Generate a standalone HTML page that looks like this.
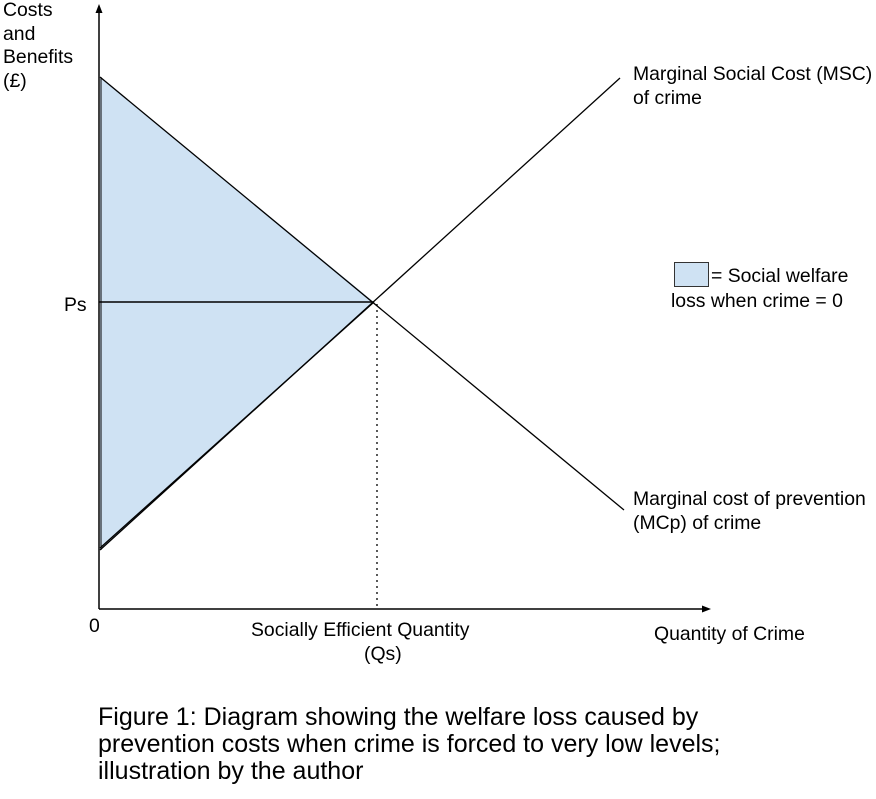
<!DOCTYPE html>
<html><head><style>
body{margin:0;background:#fff;width:876px;height:794px;overflow:hidden;font-family:"Liberation Sans",Arial,sans-serif}
</style></head><body>
<svg width="876" height="794" xmlns="http://www.w3.org/2000/svg" font-family="Liberation Sans, Arial, sans-serif">
<polygon points="100,77 374,302 100,550" fill="#cfe2f3"/>
<line x1="99" y1="10" x2="99" y2="609" stroke="#000" stroke-width="1.5"/>
<polygon points="99,4 95.5,13 102.5,13" fill="#000"/>
<line x1="99" y1="609" x2="705" y2="609" stroke="#000" stroke-width="1.5"/>
<polygon points="711,609 702,605.5 702,612.5" fill="#000"/>
<line x1="101" y1="77" x2="101" y2="550" stroke="#000" stroke-width="1"/>
<line x1="100" y1="77" x2="624" y2="510" stroke="#000" stroke-width="1.3"/>
<line x1="100" y1="550" x2="620" y2="78" stroke="#000" stroke-width="1.3"/>
<line x1="100" y1="548" x2="374" y2="302" stroke="#000" stroke-width="1.3"/>
<line x1="99" y1="302" x2="374" y2="302" stroke="#000" stroke-width="1.5"/>
<line x1="377" y1="304" x2="377" y2="609" stroke="#000" stroke-width="1.3" stroke-dasharray="2,4"/>
<rect x="674.5" y="262.5" width="34" height="24" fill="#cfe2f3" stroke="#333" stroke-width="1"/>
<g font-size="19.4" fill="#000">
<text x="633" y="80">Marginal Social Cost (MSC)</text>
<text x="633" y="104">of crime</text>
<text x="3" y="16">Costs</text>
<text x="3" y="40">and</text>
<text x="3" y="63">Benefits</text>
<text x="3" y="87">(£)</text>
<text x="64" y="311">Ps</text>
<text x="89" y="632">0</text>
<text x="251" y="636">Socially Efficient Quantity</text>
<text x="364" y="660">(Qs)</text>
<text x="654" y="640">Quantity of Crime</text>
<text x="711" y="282">= Social welfare</text>
<text x="671" y="307">loss when crime = 0</text>
<text x="633" y="505">Marginal cost of prevention</text>
<text x="633" y="529">(MCp) of crime</text>
</g>
<g font-size="25" fill="#000">
<text x="98" y="725">Figure 1: Diagram showing the welfare loss caused by</text>
<text x="98" y="752">prevention costs when crime is forced to very low levels;</text>
<text x="98" y="779">illustration by the author</text>
</g>
</svg>
</body></html>
